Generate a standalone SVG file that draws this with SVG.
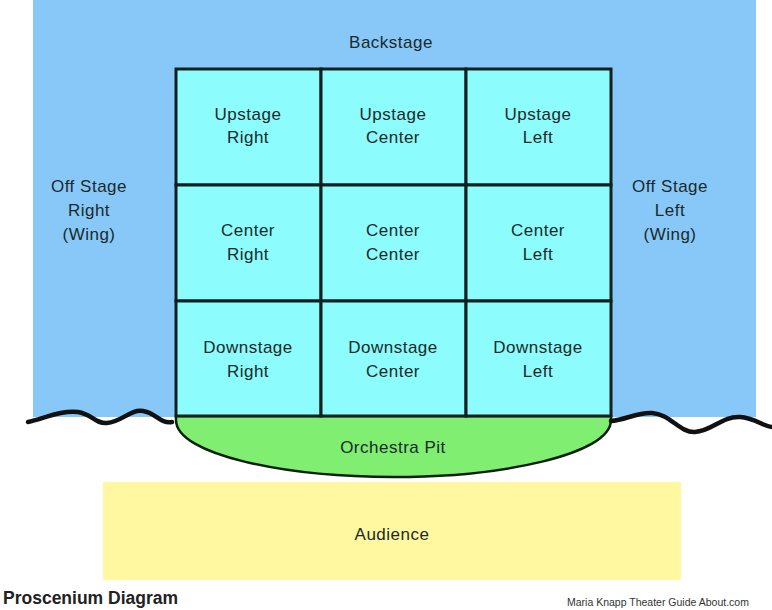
<svg xmlns="http://www.w3.org/2000/svg" width="772" height="610" viewBox="0 0 772 610">
<style>
.t{font-family:"Liberation Sans",Arial,sans-serif;font-size:17px;fill:#1a2a2a;text-anchor:middle;letter-spacing:0.5px}
.cell{fill:#8cfcfc;stroke:#102020;stroke-width:3}
.wave{fill:none;stroke:#111;stroke-width:4.5;stroke-linecap:round}
</style>
<rect x="0" y="0" width="772" height="610" fill="#ffffff"/>
<g id="backstage-area">
<rect x="33" y="0" width="723" height="417" fill="#88c8f8"/>
<text class="t" x="391" y="48">Backstage</text>
</g>
<g id="offstage-right">
<text class="t" x="89" y="192">Off Stage</text>
<text class="t" x="89" y="216">Right</text>
<text class="t" x="89" y="240">(Wing)</text>
</g>
<g id="offstage-left">
<text class="t" x="670" y="192">Off Stage</text>
<text class="t" x="670" y="216">Left</text>
<text class="t" x="670" y="240">(Wing)</text>
</g>
<g id="orchestra-pit">
<path d="M176,416 L611,416 L611,420 C611,455 500,477 393,477 C286,477 176,455 176,420 Z" fill="#80ee70" stroke="#102010" stroke-width="2.5"/>
<text class="t" x="393" y="453">Orchestra Pit</text>
</g>
<g id="upstage-right"><rect class="cell" x="176" y="69" width="145" height="116"/><text class="t" x="248" y="120">Upstage</text><text class="t" x="248" y="143">Right</text></g>
<g id="upstage-center"><rect class="cell" x="321" y="69" width="145" height="116"/><text class="t" x="393" y="120">Upstage</text><text class="t" x="393" y="143">Center</text></g>
<g id="upstage-left"><rect class="cell" x="466" y="69" width="145" height="116"/><text class="t" x="538" y="120">Upstage</text><text class="t" x="538" y="143">Left</text></g>
<g id="center-right"><rect class="cell" x="176" y="185" width="145" height="116"/><text class="t" x="248" y="236">Center</text><text class="t" x="248" y="260">Right</text></g>
<g id="center-center"><rect class="cell" x="321" y="185" width="145" height="116"/><text class="t" x="393" y="236">Center</text><text class="t" x="393" y="260">Center</text></g>
<g id="center-left"><rect class="cell" x="466" y="185" width="145" height="116"/><text class="t" x="538" y="236">Center</text><text class="t" x="538" y="260">Left</text></g>
<g id="downstage-right"><rect class="cell" x="176" y="301" width="145" height="115"/><text class="t" x="248" y="353">Downstage</text><text class="t" x="248" y="377">Right</text></g>
<g id="downstage-center"><rect class="cell" x="321" y="301" width="145" height="115"/><text class="t" x="393" y="353">Downstage</text><text class="t" x="393" y="377">Center</text></g>
<g id="downstage-left"><rect class="cell" x="466" y="301" width="145" height="115"/><text class="t" x="538" y="353">Downstage</text><text class="t" x="538" y="377">Left</text></g>
<g id="waves">
<path class="wave" d="M28,422 C45,418 62,410 78,412 C92,414 95,424 107,423 C122,422 130,409 143,411 C156,413 160,424 172,422"/>
<path class="wave" d="M611,421 C625,420 638,412 652,413 C670,414 680,433 695,432 C712,431 722,416 740,417 C755,418 762,426 772,427"/>
</g>
<g id="audience">
<rect x="103" y="482" width="578" height="98" fill="#fff8a0"/>
<text class="t" x="392" y="540">Audience</text>
</g>
<g id="title">
<text x="3" y="604" font-family="Liberation Sans,Arial,sans-serif" font-size="17.5" font-weight="bold" fill="#222">Proscenium Diagram</text>
<text x="567" y="606" font-family="Liberation Sans,Arial,sans-serif" font-size="10.5" fill="#333">Maria Knapp Theater Guide About.com</text>
</g>
</svg>
